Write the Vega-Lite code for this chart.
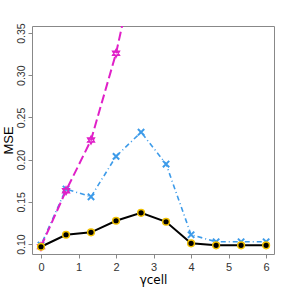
{
  "$schema": "https://vega.github.io/schema/vega-lite/v6.json",
  "width": 242,
  "height": 228,
  "autosize": "none",
  "padding": {"left": 32, "top": 26, "right": 14, "bottom": 34},
  "background": "white",
  "config": {
    "view": {"stroke": "#888888", "strokeWidth": 1},
    "font": "Liberation Sans",
    "axis": {"grid": false, "domain": false, "tickColor": "#888888", "tickSize": 4, "labelFont": "Liberation Sans", "labelFontSize": 11, "labelColor": "#333333", "titleFont": "Liberation Sans", "titleFontWeight": "normal", "titleColor": "#000000"}
  },
  "datasets": {
    "d": [
      {"series": "black", "x": 0, "y": 0.0968},
      {"series": "black", "x": 0.667, "y": 0.111},
      {"series": "black", "x": 1.333, "y": 0.1139},
      {"series": "black", "x": 2, "y": 0.1276},
      {"series": "black", "x": 2.667, "y": 0.137},
      {"series": "black", "x": 3.333, "y": 0.1264},
      {"series": "black", "x": 4, "y": 0.1008},
      {"series": "black", "x": 4.667, "y": 0.0985},
      {"series": "black", "x": 5.333, "y": 0.0985},
      {"series": "black", "x": 6, "y": 0.0985},
      {"series": "blue", "x": 0, "y": 0.0988},
      {"series": "blue", "x": 0.667, "y": 0.1652},
      {"series": "blue", "x": 1.333, "y": 0.156},
      {"series": "blue", "x": 2, "y": 0.2039},
      {"series": "blue", "x": 2.667, "y": 0.2325},
      {"series": "blue", "x": 3.333, "y": 0.1948},
      {"series": "blue", "x": 4, "y": 0.111},
      {"series": "blue", "x": 4.667, "y": 0.1027},
      {"series": "blue", "x": 5.333, "y": 0.1027},
      {"series": "blue", "x": 6, "y": 0.1027},
      {"series": "magenta", "x": 0, "y": 0.097},
      {"series": "magenta", "x": 0.667, "y": 0.1632},
      {"series": "magenta", "x": 1.333, "y": 0.2232},
      {"series": "magenta", "x": 2, "y": 0.326},
      {"series": "magenta", "x": 2.667, "y": 0.46}
    ]
  },
  "data": {"name": "d"},
  "encoding": {
    "x": {"field": "x", "type": "quantitative", "scale": {"domain": [-0.24, 6.21], "nice": false, "zero": false},
      "axis": {"values": [0, 1, 2, 3, 4, 5, 6], "format": "d", "title": "γcell", "titleFont": "DejaVu Sans", "titleFontSize": 12, "titlePadding": 2, "labelPadding": 3}},
    "y": {"field": "y", "type": "quantitative", "scale": {"domain": [0.0882, 0.3583], "nice": false, "zero": false},
      "axis": {"values": [0.1, 0.15, 0.2, 0.25, 0.3, 0.35], "format": ".2f", "title": "MSE", "titleFontSize": 13, "titlePadding": 1, "labelFontSize": 10.5, "labelAngle": -90, "labelAlign": "center", "labelBaseline": "bottom", "labelPadding": 2}}
  },
  "layer": [
    {"transform": [{"filter": "datum.series === 'blue'"}],
      "mark": {"type": "line", "clip": true, "color": "#3d9be9", "strokeWidth": 1.6, "strokeDash": [1, 3, 5, 3]}},
    {"transform": [{"filter": "datum.series === 'blue'"}],
      "mark": {"type": "point", "clip": true, "shape": "M-1,-1L1,1M-1,1L1,-1", "filled": false, "color": "#3d9be9", "strokeWidth": 2, "size": 40, "opacity": 1}},
    {"transform": [{"filter": "datum.series === 'magenta'"}],
      "mark": {"type": "line", "clip": true, "color": "#e020c8", "strokeWidth": 2, "strokeDash": [9, 4]}},
    {"transform": [{"filter": "datum.series === 'magenta'"}],
      "mark": {"type": "point", "clip": true, "shape": "M0,-1L0.866,0.5L-0.866,0.5ZM0,1L0.866,-0.5L-0.866,-0.5Z", "filled": true, "fill": "#f080e0", "stroke": "#e020c8", "strokeWidth": 1.5, "size": 60, "opacity": 1}},
    {"transform": [{"filter": "datum.series === 'black'"}],
      "mark": {"type": "line", "clip": true, "color": "#000000", "strokeWidth": 2}},
    {"transform": [{"filter": "datum.series === 'black'"}],
      "mark": {"type": "point", "clip": true, "shape": "circle", "filled": true, "fill": "#000000", "stroke": "#f0c000", "strokeWidth": 1.5, "size": 45, "opacity": 1}}
  ]
}
